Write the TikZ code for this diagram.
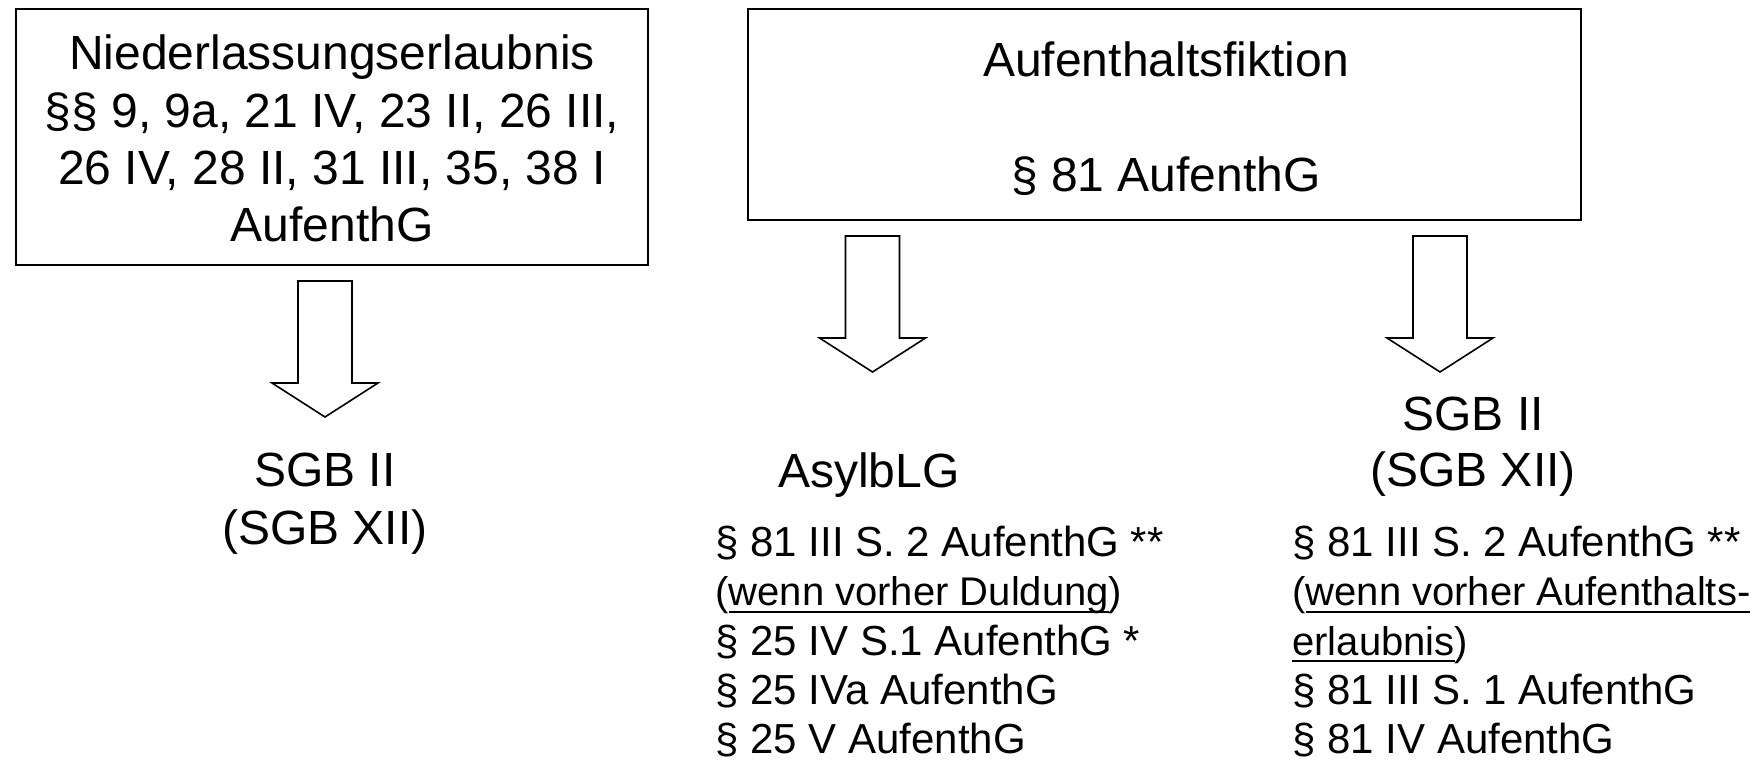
\documentclass[tikz,border=0pt]{standalone}
\usepackage{fontspec}
\setmainfont{Liberation Sans}
\newcommand\myul[1]{\setbox0\hbox{#1}\rlap{\rule[-3.3pt]{\wd0}{0.9pt}}\box0}
\begin{document}
\begin{tikzpicture}[x=0.5pt,y=-0.5pt,
  big/.style={font=\fontsize{24}{28}\selectfont, inner sep=0pt, anchor=base},
  small/.style={font=\fontsize{21}{25}\selectfont, inner sep=0pt, anchor=base west},
  smallu/.style={font=\fontsize{20}{24}\selectfont, inner sep=0pt, anchor=base west},
  frame/.style={draw, line width=1pt, inner sep=0pt},
  blockarrow/.pic={\draw[line width=0.8pt, line join=miter] (-27,0) -- (27,0) -- (27,102) -- (53,102) -- (0,136) -- (-53,102) -- (-27,102) -- cycle;}
]
\useasboundingbox (0,0) rectangle (1760,763);
% boxes
\node[frame, minimum width=316pt, minimum height=128pt] (nbox) at (332,137) {};
\node[frame, minimum width=416.5pt, minimum height=105.5pt] (fbox) at (1164.5,114.5) {};
% box texts
\node[big] (n1) at (332,70) {Niederlassungserlaubnis};
\node[big] (n2) at (332,128) {§§ 9, 9a, 21 IV, 23 II, 26 III,};
\node[big] (n3) at (332,185) {26 IV, 28 II, 31 III, 35, 38 I};
\node[big] (n4) at (332,242) {AufenthG};
\node[big] (f1) at (1166,77) {Aufenthaltsfiktion};
\node[big] (f2) at (1166,192) {§ 81 AufenthG};
% block arrows
\pic (a1) at (325,281) {blockarrow};
\pic (a2) at (872.5,236) {blockarrow};
\pic (a3) at (1440,236) {blockarrow};
% targets
\node[big] (s1) at (325,487) {SGB II};
\node[big] (s2) at (325,545) {(SGB XII)};
\node[big] (as) at (869,488) {AsylbLG};
\node[big] (r1) at (1473,431) {SGB II};
\node[big] (r2) at (1473,487) {(SGB XII)};
% left list
\node[small] (l1) at (715,557) {§ 81 III S. 2 AufenthG **};
\node[smallu] (l2) at (715,606) {(\myul{wenn vorher Duldung})};
\node[small] (l3) at (715,655) {§ 25 IV S.1 AufenthG *};
\node[small] (l4) at (715,704) {§ 25 IVa AufenthG};
\node[small] (l5) at (715,753) {§ 25 V AufenthG};
% right list
\node[small] (m1) at (1292,557) {§ 81 III S. 2 AufenthG **};
\node[smallu] (m2) at (1292,606) {(\myul{wenn vorher Aufenthalts-}};
\node[smallu] (m3) at (1292,655) {\myul{erlaubnis})};
\node[small] (m4) at (1292,704) {§ 81 III S. 1 AufenthG};
\node[small] (m5) at (1292,753) {§ 81 IV AufenthG};
\end{tikzpicture}
\end{document}
